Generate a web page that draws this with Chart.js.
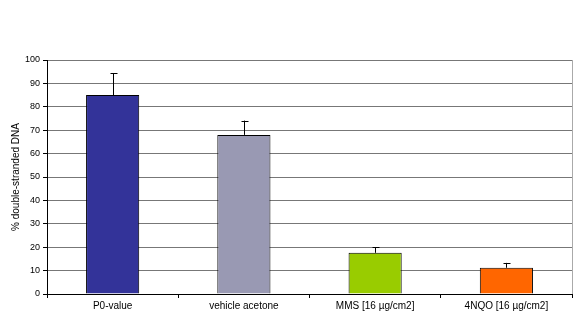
<!DOCTYPE html>
<html>
<head>
<meta charset="utf-8">
<script src="https://cdn.jsdelivr.net/npm/chart.js@4"></script>
<style>
  html, body { margin: 0; padding: 0; background: #fff; }
  #wrap { width: 580px; height: 322px; }
</style>
</head>
<body>
<div id="wrap"><canvas id="chart" width="580" height="322"></canvas></div>
<script>
var categories = ['P0-value', 'vehicle acetone', 'MMS [16 µg/cm2]', '4NQO [16 µg/cm2]'];
var values = [85, 68, 17.6, 11.2];
var errors = [9.3, 6.1, 2.3, 2.1];
var barColors = ['#333399', '#9999b3', '#99cc00', '#ff6600'];
var yTicks = [0, 10, 20, 30, 40, 50, 60, 70, 80, 90, 100];

// error bars drawn on top of the bars (upper half only)
var errorBars = {
  id: 'errorBars',
  afterDatasetsDraw: function(chart) {
    var ctx = chart.ctx;
    var y = chart.scales.y;
    var meta = chart.getDatasetMeta(0);
    ctx.save();
    ctx.strokeStyle = '#000';
    ctx.lineWidth = 1;
    meta.data.forEach(function(bar, i) {
      var x = Math.round(bar.x) + 0.5;
      var yTop = y.getPixelForValue(values[i] + errors[i]);
      var yBase = y.getPixelForValue(values[i]);
      ctx.beginPath();
      ctx.moveTo(x, yBase);
      ctx.lineTo(x, yTop);
      ctx.moveTo(x - 3, Math.round(yTop) + 0.5);
      ctx.lineTo(x + 4, Math.round(yTop) + 0.5);
      ctx.stroke();
    });
    ctx.restore();
  }
};

// right border of the plot area
var plotBorder = {
  id: 'plotBorder',
  beforeDatasetsDraw: function(chart) {
    var a = chart.chartArea;
    var ctx = chart.ctx;
    ctx.save();
    ctx.strokeStyle = '#aaa';
    ctx.lineWidth = 1;
    ctx.beginPath();
    ctx.moveTo(Math.round(a.right) + 0.5, a.top);
    ctx.lineTo(Math.round(a.right) + 0.5, a.bottom);
    ctx.stroke();
    ctx.restore();
  }
};

Chart.defaults.font.family = '"Liberation Sans", Arial, sans-serif';
Chart.defaults.font.size = 9;
Chart.defaults.color = '#000';

var ctx = document.getElementById('chart').getContext('2d');
new Chart(ctx, {
  type: 'bar',
  data: {
    labels: categories,
    datasets: [{
      data: values,
      backgroundColor: barColors,
      borderColor: '#000',
      borderWidth: 1,
      borderSkipped: 'bottom',
      categoryPercentage: 1,
      barPercentage: 0.405
    }]
  },
  options: {
    responsive: false,
    animation: false,
    layout: { padding: { top: 60, right: 8, left: 10, bottom: 8 } },
    plugins: {
      legend: { display: false },
      tooltip: { enabled: false }
    },
    scales: {
      x: {
        offset: true,
        grid: {
          display: true,
          offset: true,
          drawOnChartArea: false,
          drawTicks: true,
          tickLength: 4,
          color: '#000'
        },
        border: { display: true, color: '#000' },
        ticks: { padding: 2, maxRotation: 0, autoSkip: false, font: { size: 10 } }
      },
      y: {
        min: 0,
        max: 100,
        afterBuildTicks: function(scale) {
          scale.ticks = yTicks.map(function(v) { return { value: v }; });
        },
        grid: {
          color: '#777',
          tickColor: '#000',
          tickLength: 4
        },
        border: { display: true, color: '#000' },
        ticks: { padding: 3 },
        title: {
          display: true,
          text: '% double-stranded DNA',
          font: { size: 10 },
          padding: { top: 0, bottom: 0 }
        }
      }
    }
  },
  plugins: [plotBorder, errorBars]
});
</script>
</body>
</html>
